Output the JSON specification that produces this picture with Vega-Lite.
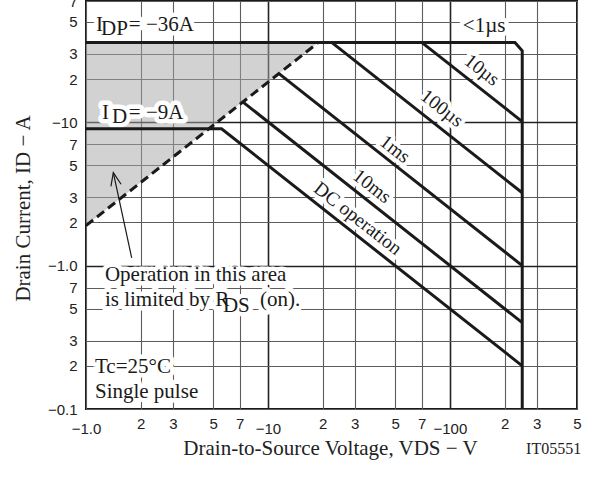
{
  "$schema": "https://vega.github.io/schema/vega-lite/v6.json",
  "width": 491,
  "height": 408,
  "autosize": "none",
  "padding": {"left": 86, "top": 1, "right": 30, "bottom": 86},
  "background": "white",
  "config": {
    "view": {"stroke": "#1a1a1a", "strokeWidth": 2},
    "font": "Liberation Serif"
  },
  "title": {
    "text": "IT05551",
    "orient": "bottom",
    "anchor": "end",
    "font": "Liberation Serif",
    "fontSize": 16,
    "fontWeight": "normal",
    "color": "#222",
    "offset": -17
  },
  "datasets": {
    "curves": [
      {"s": "env", "k": 0, "V": 1, "I": 36},
      {"s": "env", "k": 1, "V": 228, "I": 36},
      {"s": "env", "k": 2, "V": 250, "I": 31.5},
      {"s": "env", "k": 3, "V": 250, "I": 0.1},
      {"s": "10us", "k": 0, "V": 70, "I": 36},
      {"s": "10us", "k": 1, "V": 250, "I": 10.1},
      {"s": "100us", "k": 0, "V": 22.4, "I": 36},
      {"s": "100us", "k": 1, "V": 250, "I": 3.22},
      {"s": "1ms", "k": 0, "V": 11.5, "I": 21.8},
      {"s": "1ms", "k": 1, "V": 250, "I": 1.0},
      {"s": "10ms", "k": 0, "V": 7.3, "I": 13.8},
      {"s": "10ms", "k": 1, "V": 250, "I": 0.4},
      {"s": "DC", "k": 0, "V": 1, "I": 9},
      {"s": "DC", "k": 1, "V": 5.56, "I": 9},
      {"s": "DC", "k": 2, "V": 250, "I": 0.2}
    ],
    "shade": [
      {"V": 1, "I": 1.9, "I2": 36},
      {"V": 18.95, "I": 36, "I2": 36}
    ],
    "arrow": [
      {"k": 0, "V": 1.783, "I": 1.132},
      {"k": 1, "V": 1.413, "I": 4.45}
    ],
    "notes": [
      {"t": "I", "V": 1.135, "I": 43.3},
      {"t": "DP", "V": 1.209, "I": 40.6},
      {"t": "= −36A", "V": 1.72, "I": 43.3},
      {"t": "I", "V": 1.224, "I": 10.5},
      {"t": "D", "V": 1.389, "I": 9.84},
      {"t": "= −9A", "V": 1.72, "I": 10.5},
      {"t": "Operation in this area", "V": 1.271, "I": 0.785},
      {"t": "is limited by R", "V": 1.271, "I": 0.525},
      {"t": "DS", "V": 5.66, "I": 0.477},
      {"t": "(on).", "V": 9.04, "I": 0.525},
      {"t": "Tc=25°C", "V": 1.12, "I": 0.1786},
      {"t": "Single pulse", "V": 1.12, "I": 0.1194},
      {"t": "<1µs", "V": 117.9, "I": 42.6}
    ],
    "rot": [
      {"t": "10µs", "V": 149.9, "I": 23.1},
      {"t": "100µs", "V": 90.4, "I": 12.5},
      {"t": "1ms", "V": 49.9, "I": 6.47},
      {"t": "10ms", "V": 37.3, "I": 3.57},
      {"t": "DC operation", "V": 31.2, "I": 2.13}
    ]
  },
  "encoding": {
    "x": {
      "field": "V",
      "type": "quantitative",
      "scale": {"type": "log", "domain": [1, 500], "nice": false},
      "axis": {
        "values": [1, 2, 3, 5, 7, 10, 20, 30, 50, 70, 100, 200, 300, 500],
        "labelExpr": "datum.value == 1 ? '−1.0' : datum.value == 10 ? '−10' : datum.value == 100 ? '−100' : format(datum.value / pow(10, floor(log(datum.value) / LN10 + 1e-9)), '.0f')",
        "labelFont": "Liberation Sans",
        "labelFontSize": 15,
        "labelColor": "#222",
        "labelBaseline": "top",
        "labelPadding": {"condition": {"test": "datum.value == 1 || datum.value == 10 || datum.value == 100", "value": 12}, "value": 7},
        "labelFlush": false,
        "labelOverlap": false,
        "labelBound": false,
        "ticks": false,
        "domain": false,
        "grid": true,
        "gridColor": {"condition": {"test": "datum.value == 10 || datum.value == 100", "value": "#222"}, "value": "#5c5c5c"},
        "gridWidth": {"condition": {"test": "datum.value == 10 || datum.value == 100", "value": 1.6}, "value": 1.1},
        "title": "Drain-to-Source Voltage,  VDS  −  V",
        "titleFont": "Liberation Serif",
        "titleFontSize": 21,
        "titleFontWeight": "normal",
        "titleColor": "#222",
        "titleX": 244,
        "titleY": 45,
        "titleBaseline": "alphabetic",
        "titleAlign": "center"
      }
    },
    "y": {
      "field": "I",
      "type": "quantitative",
      "scale": {"type": "log", "domain": [0.1, 70], "nice": false},
      "axis": {
        "values": [0.1, 0.2, 0.3, 0.5, 0.7, 1, 2, 3, 5, 7, 10, 20, 30, 50, 70],
        "labelExpr": "datum.value == 0.1 ? '−0.1' : datum.value == 1 ? '−1.0' : datum.value == 10 ? '−10' : format(datum.value / pow(10, floor(log(datum.value) / LN10 + 1e-9)), '.0f')",
        "labelFont": "Liberation Sans",
        "labelFontSize": 15,
        "labelColor": "#222",
        "labelPadding": 9,
        "labelFlush": false,
        "labelOverlap": false,
        "labelBound": false,
        "ticks": false,
        "domain": false,
        "grid": true,
        "gridColor": {"condition": {"test": "datum.value == 1 || datum.value == 10", "value": "#222"}, "value": "#5c5c5c"},
        "gridWidth": {"condition": {"test": "datum.value == 1 || datum.value == 10", "value": 1.6}, "value": 1.1},
        "title": "Drain Current,  ID  −  A",
        "titleFont": "Liberation Serif",
        "titleFontSize": 21,
        "titleFontWeight": "normal",
        "titleColor": "#222",
        "titleX": -57,
        "titleY": 207,
        "titleAngle": -90,
        "titleBaseline": "alphabetic",
        "titleAlign": "center"
      }
    }
  },
  "layer": [
    {
      "data": {"name": "shade"},
      "mark": {"type": "area", "color": "#a6a6a6", "opacity": 0.5},
      "encoding": {"y2": {"field": "I2"}}
    },
    {
      "data": {"name": "notes"},
      "mark": {"type": "text", "align": "left", "baseline": "alphabetic", "font": "Liberation Serif", "fontSize": 21, "fill": "white", "stroke": "white", "strokeWidth": 9, "strokeJoin": "round"},
      "encoding": {"text": {"field": "t"}}
    },
    {
      "data": {"name": "rot"},
      "mark": {"type": "text", "align": "center", "baseline": "middle", "angle": 38, "font": "Liberation Serif", "fontSize": 19.5, "fill": "white", "stroke": "white", "strokeWidth": 8, "strokeJoin": "round"},
      "encoding": {"text": {"field": "t"}}
    },
    {
      "data": {"name": "shade"},
      "mark": {"type": "line", "color": "#1a1a1a", "strokeWidth": 3, "strokeDash": [9, 5]},
      "encoding": {}
    },
    {
      "data": {"name": "curves"},
      "mark": {"type": "line", "color": "#1a1a1a", "strokeWidth": 3},
      "encoding": {
        "detail": {"field": "s"},
        "order": {"field": "k", "type": "quantitative"}
      }
    },
    {
      "data": {"name": "notes"},
      "mark": {"type": "text", "align": "left", "baseline": "alphabetic", "font": "Liberation Serif", "fontSize": 21, "color": "#1a1a1a"},
      "encoding": {"text": {"field": "t"}}
    },
    {
      "data": {"name": "rot"},
      "mark": {"type": "text", "align": "center", "baseline": "middle", "angle": 38, "font": "Liberation Serif", "fontSize": 19.5, "color": "#1a1a1a"},
      "encoding": {"text": {"field": "t"}}
    },
    {
      "data": {"name": "arrow"},
      "mark": {"type": "line", "color": "#1a1a1a", "strokeWidth": 1.2},
      "encoding": {"order": {"field": "k", "type": "quantitative"}}
    },
    {
      "data": {"name": "arrow"},
      "transform": [{"filter": "datum.k == 1"}],
      "mark": {"type": "point", "shape": "M -0.4 1 L 0 0 L 0.4 1", "size": 676, "filled": false, "stroke": "#1a1a1a", "strokeWidth": 1.2, "angle": -12, "opacity": 1},
      "encoding": {}
    }
  ]
}
